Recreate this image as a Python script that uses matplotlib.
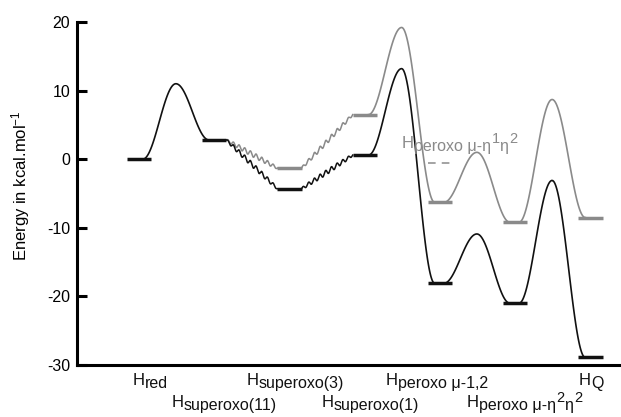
import numpy as np
import matplotlib
matplotlib.use('Agg')
import matplotlib.pyplot as plt

plt.rcParams['font.family'] = ['Liberation Sans', 'DejaVu Sans']
plt.rcParams['mathtext.fontset'] = 'custom'
plt.rcParams['mathtext.rm'] = 'Liberation Sans'
plt.rcParams['mathtext.it'] = 'Liberation Sans:italic'

# Energie poziomow (kcal/mol), pozycje 1..7 na osi reakcji
poz_poziomow = [1, 2, 3, 4, 5, 6, 7]
e_czarne = [0.0, 2.8, -4.3, 0.6, -18.1, -21.0, -28.9]
e_szare = [None, 2.8, -1.3, 6.5, -6.3, -9.2, -8.5]

# Stany przejsciowe (miedzy poziomami), None = przejscie falowane
ts_czarne = [11.0, None, None, 13.2, -10.9, -3.1]
ts_szare = [None, None, None, 19.2, 1.0, 8.7]

# Poziom przerywany H peroxo mu-eta1eta2
poz_przerywany = 5
e_przerywany = -0.5

# Etykiety stanow: (indeks dolny z wykladnikami, lewa krawedz [px], linia bazowa [px])
etykiety = [
    (['red'], 133, 385),
    (['superoxo(11)'], 172, 407),
    (['superoxo(3)'], 247, 385),
    (['superoxo(1)'], 322, 407),
    (['peroxo μ-1,2'], 386, 385),
    (['peroxo μ-η', '^2', 'η', '^2'], 467, 407),
    (['Q'], 579, 385),
]
etykieta_szara = (['peroxo μ-η', '^1', 'η', '^2'], 402, 148)

CZARNY = '#111111'
SZARY = '#8a8a8a'
pol = 0.16   # polowa szerokosci poziomu
wej = 0.05   # gdzie krzywa dochodzi do poziomu
W, H = 621, 417


def bariera(ax, x0, y0, x1, y1, ts, kolor):
    xm = (x0 + x1) / 2
    t = np.linspace(0, 1, 60)
    s = (1 - np.cos(np.pi * t)) / 2
    xa = x0 + (xm - x0) * t
    ya = y0 + (ts - y0) * s
    xb = xm + (x1 - xm) * t
    yb = ts + (y1 - ts) * s
    ax.plot(np.r_[xa, xb], np.r_[ya, yb], color=kolor, lw=1.2)


def fala(ax, x0, y0, x1, y1, kolor, n=9, amp=0.35):
    t = np.linspace(0, 1, 400)
    x = x0 + (x1 - x0) * t
    y = y0 + (y1 - y0) * t + amp * np.sin(2 * np.pi * n * t) * np.sin(np.pi * t) ** 0.3
    ax.plot(x, y, color=kolor, lw=1.1)


def napis(fig, rend, czesci, x_px, y_px, kolor):
    t = fig.text(x_px / W, 1 - y_px / H, 'H', fontsize=12, color=kolor,
                 ha='left', va='baseline')
    x = t.get_window_extent(rend).x1
    for c in czesci:
        if c.startswith('^'):
            tt = fig.text(x / W + 0.5 / W, 1 - (y_px - 5) / H, c[1:], fontsize=10.5,
                          color=kolor, ha='left', va='baseline')
        else:
            tt = fig.text(x / W, 1 - (y_px + 3) / H, c, fontsize=11.5, color=kolor,
                          ha='left', va='baseline')
        x = tt.get_window_extent(rend).x1


fig = plt.figure(figsize=(6.21, 4.17), dpi=100)
ax = fig.add_axes([77 / W, 1 - 365 / H, 1 - 77 / W, (365 - 22) / H])

for serie, ts_lista, kolor in [(e_szare, ts_szare, SZARY), (e_czarne, ts_czarne, CZARNY)]:
    for i, (x, e) in enumerate(zip(poz_poziomow, serie)):
        if e is None:
            continue
        if not (kolor == SZARY and i == 1):
            ax.plot([x - pol, x + pol], [e, e], color=kolor, lw=2.5, solid_capstyle='butt')
        if i + 1 < len(serie):
            e2 = serie[i + 1]
            ts = ts_lista[i]
            if ts is not None:
                bariera(ax, x + wej, e, poz_poziomow[i + 1] - wej * 1.4, e2, ts, kolor)
            else:
                fala(ax, x + pol, e, poz_poziomow[i + 1] - pol, e2, kolor)

ax.plot([poz_przerywany - pol, poz_przerywany + pol], [e_przerywany, e_przerywany],
        color=SZARY, lw=1.1, ls=(0, (5, 4)))

ax.set_xlim(1 - 62 / 75.25, 1 + 482 / 75.25)
ax.set_ylim(-30, 20)
ax.set_yticks([-30, -20, -10, 0, 10, 20])
ax.set_yticklabels(['-30', '-20', '-10', '0', '10', '20'])
ax.set_xticks([])
ax.spines['top'].set_visible(False)
ax.spines['right'].set_visible(False)
ax.spines['left'].set_linewidth(2.2)
ax.spines['bottom'].set_linewidth(2.2)
ax.tick_params(axis='y', direction='in', length=7, width=2.2, labelsize=11.5, pad=5)

ax.set_ylabel(r'Energy in kcal.mol$^{\mathrm{-1}}$', fontsize=12)
ax.yaxis.set_label_coords(-45 / 544, 0.522)

rend = fig.canvas.get_renderer()
for czesci, xp, yp in etykiety:
    napis(fig, rend, czesci, xp, yp, CZARNY)
napis(fig, rend, etykieta_szara[0], etykieta_szara[1], etykieta_szara[2], SZARY)

fig.savefig('out.png', dpi=100)
